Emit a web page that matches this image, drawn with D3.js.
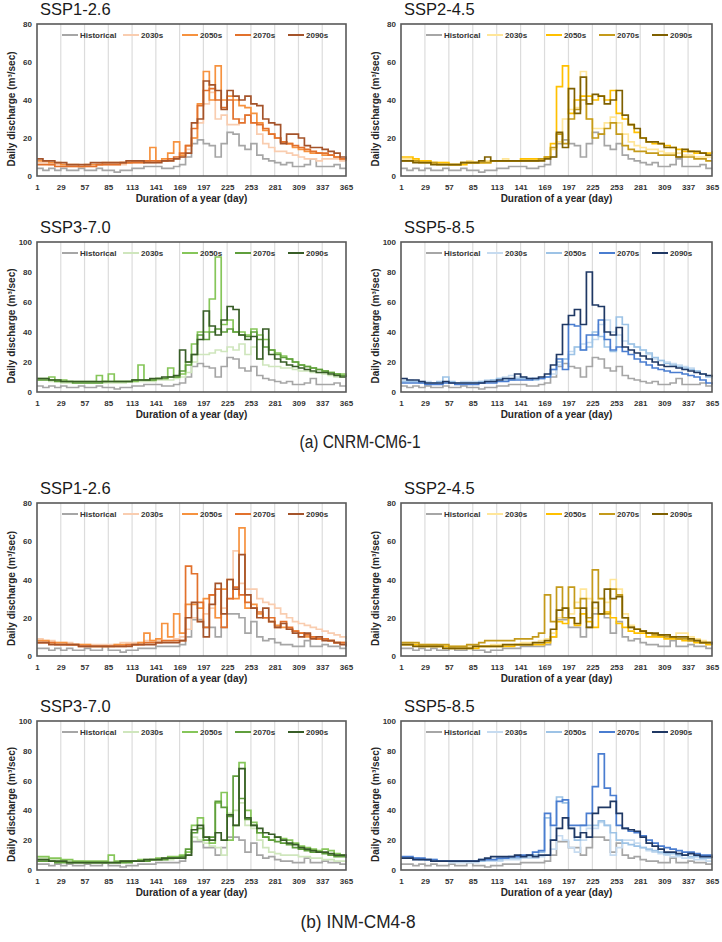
<!DOCTYPE html>
<html><head><meta charset="utf-8">
<script src="https://cdn.jsdelivr.net/npm/d3@7"></script>
<style>body{margin:0;background:#fff}svg{display:block}</style>
</head><body>
<svg id="chart" width="722" height="942"></svg>
<script>
// ---------------- DATA ----------------
const dayStarts = [1,8,15,22,29,36,43,50,57,64,71,78,85,92,99,106,113,120,127,134,141,148,155,162,169,176,183,190,197,204,211,218,225,232,239,246,253,260,267,274,281,288,295,302,309,316,323,330,337,344,351,358,365];
const xTickDays = [1,29,57,85,113,141,169,197,225,253,281,309,337,365];
const yTicks80 = [0,20,40,60,80];
const yTicks100 = [0,20,40,60,80,100];
const seriesNames = ["Historical","2030s","2050s","2070s","2090s"];
const scenarioTitles = ["SSP1-2.6","SSP2-4.5","SSP3-7.0","SSP5-8.5"];
const modelCaptions = ["(a) CNRM-CM6-1","(b) INM-CM4-8"];

const histA = [4,3,4,3,4,3,3,4,3,3,4,3,3,2,3,3,4,4,5,5,5,4,4,5,6,10,17,19,17,16,10,17,23,22,16,14,17,11,9,8,7,6,7,5,5,6,9,5,5,5,6,4,4];
const cnrm126_2030 = [7,7,6,6,6,5,5,5,5,5,6,6,6,6,6,7,7,7,7,7,8,8,8,9,10,14,20,28,38,44,30,32,27,27,30,32,28,22,17,15,13,13,12,11,10,9,9,8,9,9,9,8,8];
const cnrm126_2050 = [8,8,7,7,6,6,6,5,6,6,6,7,7,7,7,7,8,8,8,15,8,9,12,18,11,16,20,38,55,40,58,40,42,40,37,36,33,28,24,22,20,18,17,15,14,13,12,12,11,11,10,9,9];
const cnrm126_2070 = [6,6,6,5,5,5,5,5,5,5,6,6,6,6,7,7,7,7,8,8,8,8,9,10,12,16,25,37,45,46,40,36,40,30,28,32,28,27,25,22,20,18,17,16,15,14,13,12,12,11,10,9,8];
const cnrm126_2090 = [9,8,8,7,7,6,6,6,6,7,7,7,7,7,7,8,8,8,7,7,7,8,8,9,10,12,28,30,50,48,45,35,45,42,40,42,38,37,30,28,27,17,22,22,20,16,15,15,14,13,12,10,9];

const cnrm245_2030 = [9,9,8,8,7,7,7,7,6,6,7,8,7,7,8,8,8,9,8,8,9,9,9,9,10,14,18,30,35,36,55,30,25,25,28,31,28,22,18,16,15,14,14,13,12,12,12,11,11,10,10,10,9];
const cnrm245_2050 = [10,10,9,8,8,7,7,7,6,6,6,7,7,7,7,8,8,8,8,8,9,9,9,9,10,17,47,58,33,40,42,42,40,42,40,45,33,30,27,23,20,18,17,17,16,15,14,13,13,12,12,12,13];
const cnrm245_2070 = [8,8,8,7,7,7,6,6,6,6,7,7,7,7,7,8,8,8,8,8,8,8,8,9,10,15,22,17,30,35,40,30,20,22,25,28,22,16,14,13,13,12,12,11,11,11,10,10,10,9,9,8,8];
const cnrm245_2090 = [8,8,7,7,7,6,6,6,6,6,7,7,7,8,10,8,8,8,8,8,8,8,8,8,9,10,23,15,46,33,52,38,43,42,38,40,45,32,27,25,20,18,18,17,15,15,10,14,13,13,12,11,11];

const cnrm370_2030 = [8,8,7,7,6,6,6,6,6,6,6,6,6,6,6,7,7,7,7,7,8,8,8,9,10,13,20,25,25,26,28,27,30,28,32,25,30,22,18,17,17,16,16,15,14,14,13,13,12,11,10,10,10];
const cnrm370_2050 = [9,9,10,8,8,7,7,7,7,7,11,7,12,7,7,7,7,18,8,8,9,9,16,10,12,20,32,40,40,62,90,45,48,40,40,38,42,38,35,28,26,24,22,20,18,17,16,15,14,13,12,12,10];
const cnrm370_2070 = [8,8,8,7,7,7,6,6,6,6,6,7,7,7,7,7,8,8,8,8,9,9,10,10,14,18,25,38,35,40,42,40,42,40,38,37,40,35,30,28,25,23,22,20,18,17,16,15,14,13,12,11,10];
const cnrm370_2090 = [9,9,8,8,7,7,7,7,7,7,7,7,7,7,7,7,8,8,8,9,9,10,10,11,28,20,25,35,54,44,38,48,57,55,38,35,37,22,42,25,22,20,18,17,16,15,14,13,13,12,11,10,10];

const cnrm585_2030 = [8,8,7,7,7,6,6,6,6,6,7,7,7,7,8,8,9,10,11,10,10,9,9,9,10,12,18,22,27,30,32,33,35,45,48,40,38,34,32,30,28,25,22,21,20,19,18,17,16,14,12,11,9];
const cnrm585_2050 = [7,7,7,6,6,6,7,10,7,6,6,6,6,7,7,8,9,8,8,9,9,9,8,9,10,15,20,22,25,30,28,30,40,37,30,27,50,45,32,30,28,26,23,21,19,18,17,16,15,14,12,10,9];
const cnrm585_2070 = [6,6,6,6,5,5,5,6,6,5,5,5,5,6,6,6,7,7,8,8,8,8,9,9,10,15,22,15,45,44,28,38,38,48,35,28,30,27,25,22,20,18,16,15,14,13,13,12,11,10,8,6,5];
const cnrm585_2090 = [9,8,8,7,6,6,6,7,6,6,6,6,6,6,7,7,8,9,9,12,10,9,9,10,12,18,25,45,51,55,45,80,58,57,40,38,43,30,28,26,24,22,20,18,17,17,16,15,14,13,12,11,10];

const histB = [4,4,3,4,3,4,3,3,4,3,3,5,3,3,2,3,3,4,4,4,5,5,5,5,6,10,19,19,15,15,10,15,22,22,20,12,18,10,8,9,7,6,6,5,5,8,5,5,6,5,5,4,4];
const inm126_2030 = [9,8,8,7,7,7,6,6,6,6,6,6,6,6,7,7,7,7,8,8,8,8,8,9,10,14,20,18,22,25,20,25,30,55,38,35,35,30,28,27,25,22,20,18,17,16,15,14,13,12,11,10,9];
const inm126_2050 = [8,8,7,7,7,6,6,6,6,5,5,5,5,6,6,6,6,7,12,8,9,17,10,22,12,27,27,25,30,32,20,35,40,30,67,25,27,22,20,18,16,15,14,13,12,10,10,9,9,8,7,7,6];
const inm126_2070 = [7,7,7,6,6,6,6,5,5,5,5,5,5,5,5,6,6,6,7,7,7,8,8,8,8,47,43,28,15,32,35,15,30,36,32,28,25,23,20,20,15,18,15,13,12,11,10,9,9,8,7,7,6];
const inm126_2090 = [7,7,6,6,6,6,6,5,5,5,5,5,5,5,5,5,6,6,6,6,7,7,7,7,8,20,28,18,10,27,38,22,40,35,53,32,25,20,25,18,15,17,14,12,10,12,9,10,8,8,7,6,5];

const inm245_2030 = [7,7,6,6,6,6,5,5,5,5,5,5,5,5,5,6,6,6,6,6,7,7,7,8,9,12,20,25,22,28,35,30,25,30,28,40,35,22,16,14,13,12,11,10,11,10,12,12,10,9,8,7,6];
const inm245_2050 = [6,6,6,5,5,5,5,5,4,4,4,4,4,5,5,5,5,5,5,6,6,6,6,6,7,10,18,17,20,16,22,18,15,22,23,20,17,15,13,12,12,10,10,10,9,9,9,8,8,7,7,6,6];
const inm245_2070 = [7,7,7,6,6,6,6,6,5,5,5,6,6,7,8,8,8,8,8,9,9,9,10,12,32,18,36,20,36,25,30,20,45,30,22,35,32,20,15,14,13,12,11,11,10,10,9,9,8,8,7,7,6];
const inm245_2090 = [6,6,5,5,5,5,5,4,4,4,4,4,5,5,5,5,5,6,6,6,6,6,7,7,8,14,24,25,20,17,25,15,28,22,35,30,31,20,15,14,13,12,12,11,11,10,10,10,9,8,7,7,6];

const inm370_2030 = [8,8,7,7,6,6,6,6,5,5,5,5,5,5,5,6,6,6,6,7,7,7,7,8,8,12,22,20,18,16,15,10,38,40,45,30,28,20,15,12,11,10,10,10,9,9,8,8,7,7,6,6,5];
const inm370_2050 = [9,9,8,8,7,7,6,6,6,6,6,6,10,6,6,6,6,7,7,7,8,8,9,9,10,12,30,35,22,18,45,52,20,30,72,40,32,25,22,20,22,21,20,18,16,15,14,13,14,13,11,10,9];
const inm370_2070 = [6,6,6,5,5,5,5,5,5,5,5,5,5,5,5,5,6,6,6,7,7,7,8,8,9,14,25,28,20,22,46,42,36,63,48,34,30,25,22,20,19,18,17,15,14,13,12,12,11,10,9,9,8];
const inm370_2090 = [7,7,6,6,6,5,5,5,5,5,5,5,5,5,6,6,6,6,7,7,7,8,8,8,8,10,27,30,22,20,25,20,37,30,68,35,30,28,25,24,22,20,18,17,15,14,13,12,12,11,10,10,9];

const inm585_2030 = [8,8,7,7,7,6,6,6,5,5,5,5,5,6,6,6,6,7,7,7,8,8,8,9,10,14,23,20,15,12,20,28,28,32,30,10,15,20,20,18,15,13,12,11,10,9,9,8,8,7,7,6,6];
const inm585_2050 = [8,8,8,7,7,7,6,6,6,6,6,6,6,6,7,7,7,8,8,8,9,9,10,12,35,20,49,45,28,20,30,30,30,33,30,25,20,18,17,16,15,14,13,12,11,11,10,10,9,9,8,8,8];
const inm585_2070 = [9,9,8,8,7,7,6,6,6,6,6,6,6,7,7,7,8,8,9,9,10,10,12,13,38,30,46,47,30,30,30,38,56,78,55,50,30,28,26,25,23,20,18,16,15,14,13,12,12,11,10,10,9];
const inm585_2090 = [8,8,7,7,7,6,6,6,6,6,6,6,6,7,8,9,9,9,9,10,9,10,9,10,10,20,28,35,28,22,25,22,38,42,42,46,38,28,27,26,22,18,16,14,12,12,11,10,11,10,9,9,8];

// ---------------- STYLE ----------------
const histColor = "#a6a6a6";
const palettes = [
  ["#f9cdb0","#f6923f","#e2712c","#a4532a"],
  ["#ffe699","#ffc000","#c49a1a","#7f6000"],
  ["#cfe6bd","#86c65a","#5f9e3c","#385d27"],
  ["#c6dbf0","#9dc3e6","#4a7dd0","#1f3864"]
];

const svg = d3.select("#chart");
const font = "'Liberation Sans', Arial, sans-serif";

const colX = [[37,346],[401,712]];
const rowY = [[24,176],[242,392],[503,656],[721,870]];

const panels = [
  {s:0,r:0,c:0,ymax:80,yt:yTicks80,hist:histA,ser:[cnrm126_2030,cnrm126_2050,cnrm126_2070,cnrm126_2090]},
  {s:1,r:0,c:1,ymax:80,yt:yTicks80,hist:histA,ser:[cnrm245_2030,cnrm245_2050,cnrm245_2070,cnrm245_2090]},
  {s:2,r:1,c:0,ymax:100,yt:yTicks100,hist:histA,ser:[cnrm370_2030,cnrm370_2050,cnrm370_2070,cnrm370_2090]},
  {s:3,r:1,c:1,ymax:100,yt:yTicks100,hist:histA,ser:[cnrm585_2030,cnrm585_2050,cnrm585_2070,cnrm585_2090]},
  {s:0,r:2,c:0,ymax:80,yt:yTicks80,hist:histB,ser:[inm126_2030,inm126_2050,inm126_2070,inm126_2090]},
  {s:1,r:2,c:1,ymax:80,yt:yTicks80,hist:histB,ser:[inm245_2030,inm245_2050,inm245_2070,inm245_2090]},
  {s:2,r:3,c:0,ymax:100,yt:yTicks100,hist:histB,ser:[inm370_2030,inm370_2050,inm370_2070,inm370_2090]},
  {s:3,r:3,c:1,ymax:100,yt:yTicks100,hist:histB,ser:[inm585_2030,inm585_2050,inm585_2070,inm585_2090]}
];

panels.forEach(p => {
  const [x0,x1] = colX[p.c];
  const [y0,y1] = rowY[p.r];
  const x = d3.scaleLinear().domain([1,365]).range([x0,x1]);
  const y = d3.scaleLinear().domain([0,p.ymax]).range([y1,y0]);
  const g = svg.append("g");

  g.selectAll("line.grid").data(xTickDays.slice(1,-1)).enter().append("line")
    .attr("x1",d=>x(d)).attr("x2",d=>x(d)).attr("y1",y0).attr("y2",y1)
    .attr("stroke","#dcdcdc").attr("stroke-width",1.2);

  const line = d3.line().x((d,i)=>x(dayStarts[i])).y(d=>y(d)).curve(d3.curveStepAfter);
  const all = [p.hist].concat(p.ser);
  const cols = [histColor].concat(palettes[p.s]);
  all.forEach((arr,k)=>{
    g.append("path").attr("d",line(arr)).attr("fill","none")
      .attr("stroke",cols[k]).attr("stroke-width",1.7);
  });

  g.append("rect").attr("x",x0).attr("y",y0).attr("width",x1-x0).attr("height",y1-y0)
    .attr("fill","none").attr("stroke","#595959").attr("stroke-width",1.6);

  const ya = g.append("g").attr("transform",`translate(${x0},0)`)
    .call(d3.axisLeft(y).tickValues(p.yt).tickSize(0).tickPadding(5));
  const xa = g.append("g").attr("transform",`translate(0,${y1})`)
    .call(d3.axisBottom(x).tickValues(xTickDays).tickSize(0).tickPadding(8));
  [ya,xa].forEach(a=>{
    a.select(".domain").remove();
    a.selectAll("text").attr("font-family",font).attr("font-size",8).attr("font-weight","bold").attr("fill","#333");
  });

  g.append("text").attr("x",x0+3).attr("y",y0-9).text(scenarioTitles[p.s])
    .attr("font-family",font).attr("font-size",16.5).attr("fill","#1a1a1a");
  g.append("text").attr("x",(x0+x1)/2).attr("y",y1+26).attr("text-anchor","middle")
    .text("Duration of a year (day)")
    .attr("font-family",font).attr("font-size",10).attr("font-weight","bold").attr("fill","#262626");
  g.append("text").attr("transform",`translate(${x0-22},${(y0+y1)/2+9}) rotate(-90)`)
    .attr("text-anchor","middle").text("Daily discharge (m³/sec)")
    .attr("font-family",font).attr("font-size",10).attr("font-weight","bold").attr("fill","#262626");

  const legOff = [25,86,145,198,251];
  const ly = y0 + 11;
  seriesNames.forEach((nm,k)=>{
    const lx = x0 + legOff[k];
    g.append("line").attr("x1",lx).attr("x2",lx+16).attr("y1",ly).attr("y2",ly)
      .attr("stroke",cols[k]).attr("stroke-width",2);
    g.append("text").attr("x",lx+18).attr("y",ly+3).text(nm)
      .attr("font-family",font).attr("font-size",8).attr("font-weight","bold").attr("fill","#333");
  });
});

svg.append("text").attr("x",360).attr("y",448).attr("text-anchor","middle").text(modelCaptions[0])
  .attr("font-family",font).attr("font-size",18).attr("fill","#222")
  .attr("textLength",121).attr("lengthAdjust","spacingAndGlyphs");
svg.append("text").attr("x",358).attr("y",928).attr("text-anchor","middle").text(modelCaptions[1])
  .attr("font-family",font).attr("font-size",18).attr("fill","#222")
  .attr("textLength",115).attr("lengthAdjust","spacingAndGlyphs");
</script>
</body></html>
